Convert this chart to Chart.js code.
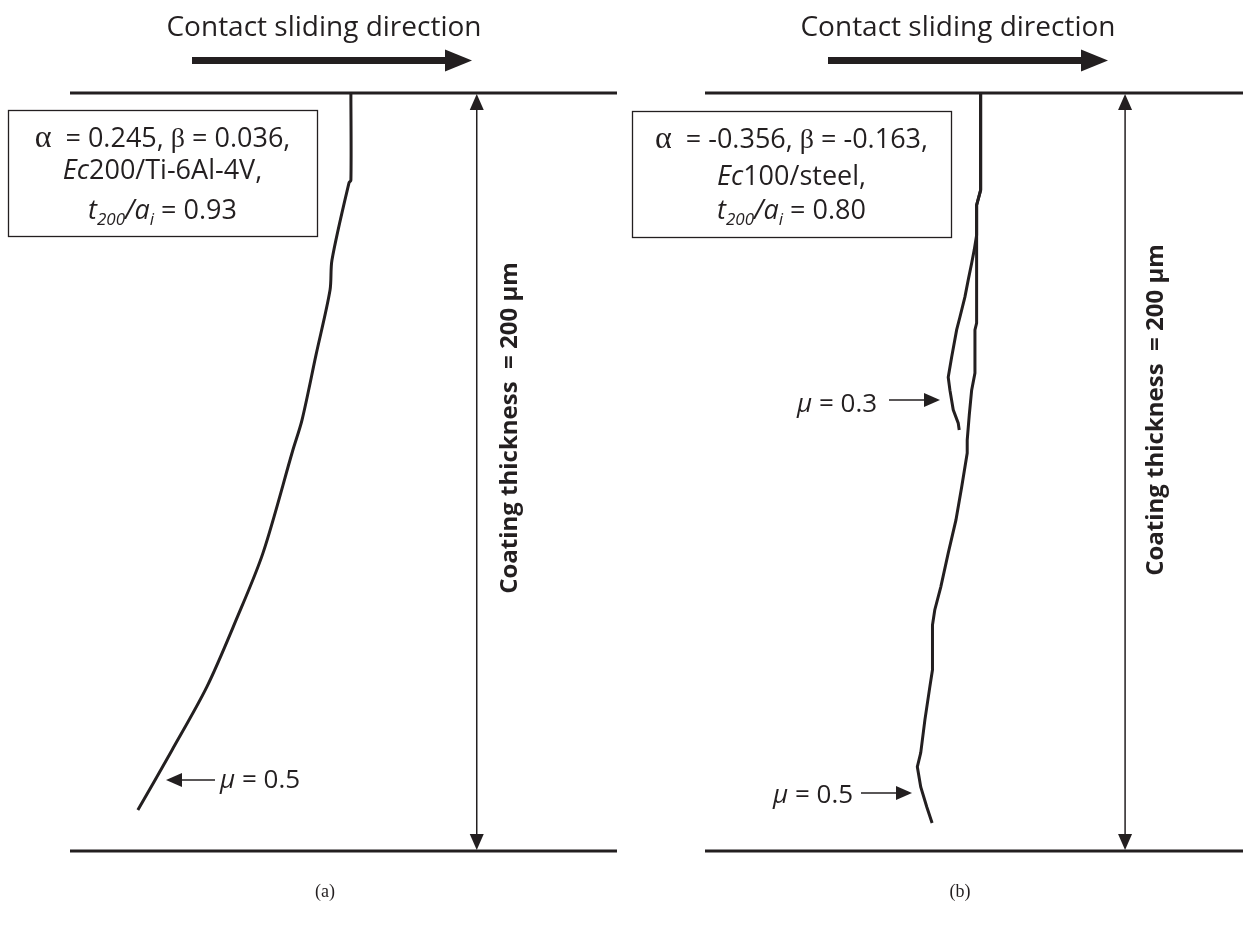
<!DOCTYPE html>
<html>
<head>
<meta charset="utf-8">
<script src="https://cdn.jsdelivr.net/npm/chart.js@4.4.1/dist/chart.umd.min.js"></script>
<style>
  html, body { margin: 0; padding: 0; background: #fff; }
  #wrap { position: relative; width: 1247px; height: 938px; }
  #chartA, #chartB { position: absolute; top: 0; }
  #chartA { left: 0; }
  #chartB { left: 623px; }
</style>
</head>
<body>
<div id="wrap">
  <canvas id="chartA" width="623" height="938"></canvas>
  <canvas id="chartB" width="624" height="938"></canvas>
</div>
<script>
// crack paths, x = lateral offset from crack origin (um), y = depth below surface (um)
const coatingDepth = [0, 200];

const crackAx = [0, 0, -0.5, -5.0, -5.5, -9.2, -12.9, -15.3, -23.2, -30.3, -38.0, -47.2, -56.2];
const crackAy = [0, 23.0, 23.7, 44.1, 52.0, 69.1, 86.3, 94.2, 121.4, 139.1, 156.7, 173.4, 189.2];

const crackB03x = [0, 0, -1.06, -1.06, -1.69, -2.37, -3.27, -4.14, -5.46, -6.33, -7.65, -8.55, -8.1, -7.23, -5.91, -5.65];
const crackB03y = [0, 25.6, 29.6, 37.5, 41.4, 44.9, 49.3, 53.8, 59.1, 62.5, 69.7, 75.0, 78.4, 83.6, 87.1, 88.9];

const crackB05x = [0, 0, -1.06, -1.06, -1.5, -1.5, -2.37, -3.0, -3.54, -3.54, -5.01, -6.52, -8.55, -10.5, -12.1, -12.7, -12.7, -13.4, -14.7, -15.8, -16.7, -15.8, -14.2, -12.8];
const crackB05y = [0, 25.6, 29.6, 60.7, 62.5, 73.9, 78.4, 85.0, 91.6, 95.0, 104.0, 112.7, 121.4, 130.3, 136.4, 140.4, 152.2, 156.7, 165.4, 174.1, 177.8, 183.1, 188.4, 192.6];

const INK = '#231f20';
const BASE = '"Open Sans", sans-serif';
const GREEK = '"Liberation Serif", serif';

function pts(xs, ys) { return xs.map((x, i) => ({x: x, y: ys[i]})); }

function crackSet(xs, ys, tension) {
  return { data: pts(xs, ys), showLine: true, borderColor: INK, borderWidth: 3,
           pointRadius: 0, clip: false, tension: tension || 0 };
}

function surfaceSet(xMin, xMax, depth) {
  return { data: [{x: xMin, y: depth}, {x: xMax, y: depth}], showLine: true,
           borderColor: INK, borderWidth: 3, pointRadius: 0, clip: false };
}

// draws a row of text runs centred on cx (or starting at cx when align = 'left')
function drawRuns(ctx, parts, cx, y, align) {
  let total = 0;
  parts.forEach(p => { ctx.font = p.f; p.w = ctx.measureText(p.t).width; total += p.w; });
  let x = align === 'left' ? cx : cx - total / 2;
  ctx.textAlign = 'left';
  ctx.textBaseline = 'alphabetic';
  parts.forEach(p => { ctx.font = p.f; ctx.fillText(p.t, x, y + (p.dy || 0)); x += p.w; });
}

function arrowHead(ctx, tx, ty, dir, len, half) {
  ctx.beginPath();
  ctx.moveTo(tx, ty);
  if (dir === 'up')    { ctx.lineTo(tx - half, ty + len); ctx.lineTo(tx + half, ty + len); }
  if (dir === 'down')  { ctx.lineTo(tx - half, ty - len); ctx.lineTo(tx + half, ty - len); }
  if (dir === 'left')  { ctx.lineTo(tx + len, ty - half); ctx.lineTo(tx + len, ty + half); }
  if (dir === 'right') { ctx.lineTo(tx - len, ty - half); ctx.lineTo(tx - len, ty + half); }
  ctx.closePath();
  ctx.fill();
}

function muLabel(ctx, m) {
  drawRuns(ctx, [
    {t: 'μ', f: 'italic 26px ' + BASE},
    {t: ' = ' + m.val, f: '26px ' + BASE}
  ], m.tx, m.ty, 'left');
  ctx.lineWidth = 1.6;
  ctx.beginPath();
  if (m.dir === 'left') { ctx.moveTo(m.x1, m.y); ctx.lineTo(m.x2 + 12, m.y); }
  else { ctx.moveTo(m.x1, m.y); ctx.lineTo(m.x2 - 12, m.y); }
  ctx.stroke();
  arrowHead(ctx, m.x2, m.y, m.dir, 16, 7);
}

function decorate(chart, cfg) {
  const ctx = chart.ctx;
  const o = cfg.offset;
  const sx = chart.scales.x, sy = chart.scales.y;
  ctx.save();
  ctx.translate(-o, 0);
  ctx.fillStyle = INK;
  ctx.strokeStyle = INK;

  // title + sliding arrow
  drawRuns(ctx, [{t: 'Contact sliding direction', f: '28px ' + BASE}], cfg.titleX, 36);
  ctx.fillRect(cfg.arrowX1, 57, cfg.arrowX2 - cfg.arrowX1 - 24, 7);
  arrowHead(ctx, cfg.arrowX2, 60.5, 'right', 27, 11);

  // parameter box
  const b = cfg.box;
  ctx.fillStyle = '#fff';
  ctx.fillRect(b[0], b[1], b[2] - b[0], b[3] - b[1]);
  ctx.fillStyle = INK;
  ctx.lineWidth = 1.3;
  ctx.strokeRect(b[0] + 0.5, b[1] + 0.5, b[2] - b[0], b[3] - b[1]);
  const bc = (b[0] + b[2]) / 2;
  drawRuns(ctx, [
    {t: 'α', f: '32px ' + GREEK},
    {t: '  = ' + cfg.alpha + ', ', f: '27px ' + BASE},
    {t: 'β', f: '28px ' + GREEK},
    {t: ' = ' + cfg.beta + ',', f: '27px ' + BASE}
  ], bc, cfg.lineY[0]);
  drawRuns(ctx, [
    {t: 'Ec', f: 'italic 27px ' + BASE},
    {t: cfg.material, f: '27px ' + BASE}
  ], bc, cfg.lineY[1]);
  drawRuns(ctx, [
    {t: 't', f: 'italic 27px ' + BASE},
    {t: '200', f: 'italic 17px ' + BASE, dy: 6},
    {t: '/', f: 'italic 27px ' + BASE},
    {t: 'a', f: 'italic 27px ' + BASE},
    {t: 'i', f: 'italic 17px ' + BASE, dy: 6},
    {t: ' = ' + cfg.ratio, f: '27px ' + BASE}
  ], bc, cfg.lineY[2]);

  // coating thickness double arrow
  const ax = sx.getPixelForValue(cfg.thickX) + o;
  const yTop = sy.getPixelForValue(coatingDepth[0]);
  const yBot = sy.getPixelForValue(coatingDepth[1]);
  ctx.lineWidth = 1.5;
  ctx.beginPath();
  ctx.moveTo(ax, yTop + 10);
  ctx.lineTo(ax, yBot - 10);
  ctx.stroke();
  arrowHead(ctx, ax, yTop + 1, 'up', 16, 7);
  arrowHead(ctx, ax, yBot - 1, 'down', 16, 7);

  ctx.save();
  ctx.translate(cfg.rotX, cfg.rotY);
  ctx.rotate(-Math.PI / 2);
  ctx.font = 'bold 24px ' + BASE;
  ctx.textAlign = 'center';
  ctx.textBaseline = 'middle';
  ctx.fillText('Coating thickness  = 200 μm', 0, 0);
  ctx.restore();

  cfg.mu.forEach(m => muLabel(ctx, m));

  ctx.font = '18px "Liberation Serif", serif';
  ctx.textAlign = 'center';
  ctx.textBaseline = 'alphabetic';
  ctx.fillText(cfg.caption, cfg.captionX, 897);
  ctx.restore();
}

function makeChart(id, datasets, xMin, xMax, pad, cfg) {
  return new Chart(document.getElementById(id).getContext('2d'), {
    type: 'scatter',
    data: { datasets: [surfaceSet(xMin, xMax, coatingDepth[0]), surfaceSet(xMin, xMax, coatingDepth[1])].concat(datasets) },
    options: {
      responsive: false,
      animation: false,
      events: [],
      layout: { padding: pad },
      plugins: { legend: { display: false }, tooltip: { enabled: false } },
      scales: {
        x: { type: 'linear', min: xMin, max: xMax, display: false },
        y: { type: 'linear', min: coatingDepth[0], max: coatingDepth[1], reverse: true, display: false }
      }
    },
    plugins: [{ id: 'decor_' + id, afterDraw: chart => decorate(chart, cfg) }]
  });
}

makeChart('chartA', [crackSet(crackAx, crackAy, 0.3)], -74.1, 70.2,
  { left: 70, right: 6, top: 93, bottom: 87 },
  {
    offset: 0, titleX: 324, arrowX1: 192, arrowX2: 472,
    box: [8, 110, 317, 236], alpha: '0.245', beta: '0.036', material: '200/Ti-6Al-4V,', ratio: '0.93',
    lineY: [147, 179, 219],
    thickX: 33.2, rotX: 510, rotY: 428,
    mu: [{ val: '0.5', tx: 220, ty: 788, y: 780, x1: 215, x2: 166, dir: 'left' }],
    caption: '(a)', captionX: 325
  });

makeChart('chartB', [crackSet(crackB03x, crackB03y), crackSet(crackB05x, crackB05y)], -72.7, 69.2,
  { left: 82, right: 4, top: 93, bottom: 87 },
  {
    offset: 623, titleX: 958, arrowX1: 828, arrowX2: 1108,
    box: [632, 111, 951, 237], alpha: '-0.356', beta: '-0.163', material: '100/steel,', ratio: '0.80',
    lineY: [148, 185, 219],
    thickX: 38.1, rotX: 1156, rotY: 410,
    mu: [
      { val: '0.3', tx: 797, ty: 412, y: 400, x1: 889, x2: 940, dir: 'right' },
      { val: '0.5', tx: 773, ty: 803, y: 793, x1: 861, x2: 912, dir: 'right' }
    ],
    caption: '(b)', captionX: 960
  });
</script>
</body>
</html>
